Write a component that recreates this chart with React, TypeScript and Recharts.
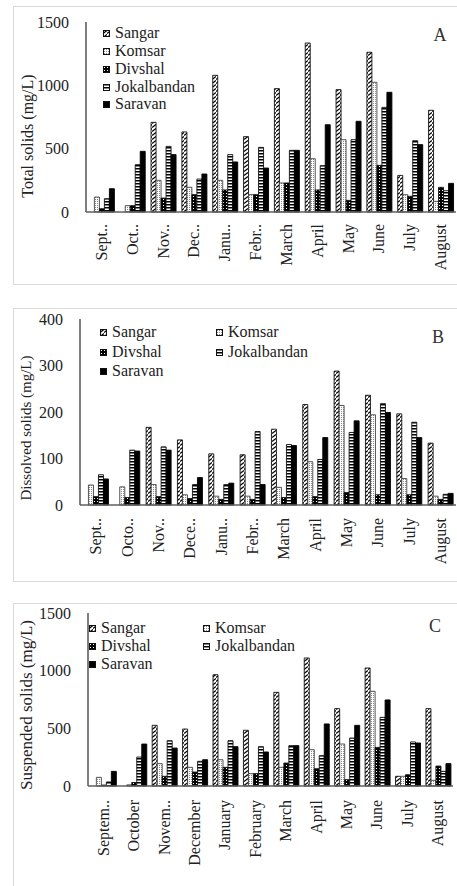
import React from 'react'
import { BarChart, Bar, XAxis, YAxis } from 'recharts'

const months = ['September', 'October', 'November', 'December', 'January', 'February', 'March', 'April', 'May', 'June', 'July', 'August']
const stations = ['Sangar', 'Komsar', 'Divshal', 'Jokalbandan', 'Saravan']

// A - total solids (mg/L)
const totalSangar = [0, 0, 708, 632, 1079, 595, 974, 1334, 966, 1261, 289, 803]
const totalKomsar = [118, 50, 250, 195, 250, 137, 229, 421, 571, 1024, 137, 84]
const totalDivshal = [26, 50, 110, 137, 174, 137, 229, 174, 92, 368, 124, 195]
const totalJokalbandan = [105, 374, 518, 260, 453, 510, 487, 366, 571, 826, 563, 168]
const totalSaravan = [184, 479, 453, 300, 395, 347, 487, 689, 716, 945, 532, 226]

// B - dissolved solids (mg/L)
const dissolvedSangar = [0, 0, 167, 140, 110, 108, 163, 216, 288, 236, 196, 133]
const dissolvedKomsar = [43, 39, 44, 22, 19, 19, 38, 93, 214, 194, 57, 19]
const dissolvedDivshal = [18, 16, 18, 14, 12, 12, 16, 18, 27, 22, 22, 12]
const dissolvedJokalbandan = [65, 118, 125, 44, 44, 158, 130, 98, 156, 218, 178, 23]
const dissolvedSaravan = [56, 116, 118, 59, 47, 44, 128, 145, 181, 199, 145, 25]

// C - suspended solids (mg/L)
const suspendedSangar = [0, 0, 526, 494, 965, 483, 812, 1110, 671, 1023, 84, 671]
const suspendedKomsar = [75, 10, 194, 162, 228, 107, 162, 315, 364, 821, 84, 49]
const suspendedDivshal = [8, 30, 84, 121, 162, 107, 199, 150, 55, 335, 98, 173]
const suspendedJokalbandan = [35, 251, 393, 214, 393, 341, 350, 263, 416, 595, 382, 127]
const suspendedSaravan = [127, 364, 329, 228, 341, 295, 350, 538, 526, 746, 373, 194]

const ticksA = ['Sept..', 'Oct..', 'Nov..', 'Dec..', 'Janu..', 'Febr..', 'March', 'April', 'May', 'June', 'July', 'August']
const ticksB = ['Sept..', 'Octo..', 'Nov..', 'Dece..', 'Janu..', 'Febr..', 'March', 'April', 'May', 'June', 'July', 'August']
const ticksC = ['Septem..', 'October', 'Novem..', 'December', 'January', 'February', 'March', 'April', 'May', 'June', 'July', 'August']

const yTicksA = [0, 500, 1000, 1500]
const yTicksB = [0, 100, 200, 300, 400]
const yTicksC = [0, 500, 1000, 1500]

const serif = "'Liberation Serif', 'Times New Roman', serif"
const frameColor = '#5f5f5f'

const buildRows = (series: number[][]) =>
  months.map((m, i) => ({
    month: m,
    Sangar: series[0][i],
    Komsar: series[1][i],
    Divshal: series[2][i],
    Jokalbandan: series[3][i],
    Saravan: series[4][i]
  }))

const dataA = buildRows([totalSangar, totalKomsar, totalDivshal, totalJokalbandan, totalSaravan])
const dataB = buildRows([dissolvedSangar, dissolvedKomsar, dissolvedDivshal, dissolvedJokalbandan, dissolvedSaravan])
const dataC = buildRows([suspendedSangar, suspendedKomsar, suspendedDivshal, suspendedJokalbandan, suspendedSaravan])

const seriesStyle: Record<string, { fill: string; stroke: string }> = {
  Sangar: { fill: 'url(#pat-sangar)', stroke: '#111' },
  Komsar: { fill: 'url(#pat-komsar)', stroke: '#444' },
  Divshal: { fill: 'url(#pat-divshal)', stroke: '#111' },
  Jokalbandan: { fill: 'url(#pat-jok)', stroke: '#111' },
  Saravan: { fill: '#000', stroke: '#000' }
}

function Patterns() {
  return (
    <svg width={0} height={0} style={{ position: 'absolute' }}>
      <defs>
        <pattern id="pat-sangar" patternUnits="userSpaceOnUse" width={4} height={4}>
          <rect width={4} height={4} fill="#fff" />
          <path d="M0 3.5 L4 0.5" stroke="#000" strokeWidth={1.3} />
        </pattern>
        <pattern id="pat-komsar" patternUnits="userSpaceOnUse" width={2} height={2}>
          <rect width={2} height={2} fill="#fff" />
          <rect x={1} y={1} width={1} height={1} fill="#8a8a8a" />
        </pattern>
        <pattern id="pat-divshal" patternUnits="userSpaceOnUse" width={3} height={3}>
          <rect width={3} height={3} fill="#000" />
          <rect x={1} y={1} width={1} height={1} fill="#fff" />
        </pattern>
        <pattern id="pat-jok" patternUnits="userSpaceOnUse" width={4} height={3}>
          <rect width={4} height={3} fill="#fff" />
          <rect width={4} height={1.5} fill="#000" />
        </pattern>
      </defs>
    </svg>
  )
}

interface LegendItem {
  name: string
  x: number
  y: number
}

interface PanelProps {
  top: number
  height: number
  data: ReturnType<typeof buildRows>
  yMax: number
  yTicks: number[]
  tickLabels: string[]
  tickDy: number
  yLabel: string
  labelX: number
  labelY: number
  labelSize: number
  letter: string
  letterX: number
  letterY: number
  margin: { top: number; right: number; bottom: number; left: number }
  yWidth: number
  xHeight: number
  legend: LegendItem[]
  legendSize: number
  frameTop: number
  frameHeight: number
}

function Panel(p: PanelProps) {
  const axisLine = { stroke: frameColor, strokeWidth: 1.6 }
  return (
    <div style={{ position: 'absolute', left: 0, top: p.top, width: 457, height: p.height }}>
      <div
        style={{
          position: 'absolute',
          left: 13,
          top: p.frameTop,
          width: 500,
          height: p.frameHeight,
          border: '1px solid #d9d9d9'
        }}
      />
      <div style={{ position: 'absolute', left: 0, top: 0 }}>
        <BarChart width={457} height={p.height} data={p.data} margin={p.margin} barCategoryGap="11%" barGap={0}>
          <XAxis
            dataKey="month"
            interval={0}
            height={p.xHeight}
            tickLine={false}
            tickSize={0}
            tickMargin={0}
            axisLine={axisLine}
            tick={(t: any) => {
              const y = t.y + p.tickDy
              const idx = t.index ?? t.payload?.index ?? 0
              return (
                <text
                  x={t.x}
                  y={y}
                  transform={`rotate(-90 ${t.x} ${y})`}
                  textAnchor="end"
                  dominantBaseline="central"
                  fontSize={16}
                  fontFamily={serif}
                  fill="#222"
                >
                  {p.tickLabels[idx]}
                </text>
              )
            }}
          />
          <XAxis xAxisId="top" orientation="top" dataKey="month" height={0} tick={false} tickLine={false} axisLine={axisLine} />
          <YAxis
            type="number"
            domain={[0, p.yMax]}
            ticks={p.yTicks}
            width={p.yWidth}
            tickLine={false}
            tickSize={0}
            tickMargin={17}
            axisLine={axisLine}
            tick={{ fontSize: 16, fontFamily: serif, fill: '#222' }}
            label={() => (
              <text
                x={p.labelX}
                y={p.labelY}
                transform={`rotate(-90 ${p.labelX} ${p.labelY})`}
                textAnchor="middle"
                dominantBaseline="central"
                fontSize={p.labelSize}
                fontFamily={serif}
                fill="#222"
              >
                {p.yLabel}
              </text>
            )}
          />
          <YAxis
            yAxisId="right"
            orientation="right"
            type="number"
            domain={[0, p.yMax]}
            width={0}
            tick={false}
            tickLine={false}
            axisLine={axisLine}
          />
          {stations.map(s => (
            <Bar
              key={s}
              dataKey={s}
              fill={seriesStyle[s].fill}
              stroke={seriesStyle[s].stroke}
              strokeWidth={0.9}
              isAnimationActive={false}
            />
          ))}
        </BarChart>
      </div>
      {p.legend.map(item => (
        <div
          key={item.name}
          style={{
            position: 'absolute',
            left: item.x,
            top: item.y,
            transform: 'translateY(-50%)',
            display: 'flex',
            alignItems: 'center',
            fontFamily: serif,
            fontSize: p.legendSize,
            color: '#222',
            whiteSpace: 'nowrap',
            lineHeight: 1
          }}
        >
          <svg width={7} height={7} style={{ marginRight: 5 }}>
            <rect x={0.5} y={0.5} width={6} height={6} fill={seriesStyle[item.name].fill} stroke="#111" strokeWidth={1} />
          </svg>
          {item.name}
        </div>
      ))}
      <div
        style={{
          position: 'absolute',
          left: p.letterX,
          top: p.letterY,
          transform: 'translate(-50%, -50%)',
          fontFamily: serif,
          fontSize: 18,
          color: '#333',
          lineHeight: 1
        }}
      >
        {p.letter}
      </div>
    </div>
  )
}

export default function App() {
  return (
    <div style={{ position: 'absolute', left: 0, top: 0, width: 457, height: 886, overflow: 'hidden', background: '#fff' }}>
      <Patterns />
      <Panel
        top={0}
        height={290}
        data={dataA}
        yMax={1500}
        yTicks={yTicksA}
        tickLabels={ticksA}
        tickDy={12}
        yLabel="Total solids (mg/L)"
        labelX={27}
        labelY={136}
        labelSize={16}
        letter="A"
        letterX={440}
        letterY={35}
        margin={{ top: 22, right: 1, bottom: 0, left: 0 }}
        yWidth={86}
        xHeight={78}
        legend={[
          { name: 'Sangar', x: 103, y: 33 },
          { name: 'Komsar', x: 103, y: 51 },
          { name: 'Divshal', x: 103, y: 69 },
          { name: 'Jokalbandan', x: 103, y: 87 },
          { name: 'Saravan', x: 103, y: 104 }
        ]}
        legendSize={16}
        frameTop={6}
        frameHeight={277}
      />
      <Panel
        top={290}
        height={295}
        data={dataB}
        yMax={400}
        yTicks={yTicksB}
        tickLabels={ticksB}
        tickDy={13}
        yLabel="Dissolved solids (mg/L)"
        labelX={26}
        labelY={138}
        labelSize={15}
        letter="B"
        letterX={438}
        letterY={47}
        margin={{ top: 29, right: 1, bottom: 0, left: 0 }}
        yWidth={80}
        xHeight={80}
        legend={[
          { name: 'Sangar', x: 100, y: 42 },
          { name: 'Komsar', x: 216, y: 42 },
          { name: 'Divshal', x: 100, y: 62 },
          { name: 'Jokalbandan', x: 216, y: 62 },
          { name: 'Saravan', x: 100, y: 81 }
        ]}
        legendSize={16}
        frameTop={18}
        frameHeight={272}
      />
      <Panel
        top={590}
        height={296}
        data={dataC}
        yMax={1500}
        yTicks={yTicksC}
        tickLabels={ticksC}
        tickDy={14}
        yLabel="Suspended solids (mg/L)"
        labelX={26}
        labelY={115}
        labelSize={17}
        letter="C"
        letterX={435}
        letterY={36}
        margin={{ top: 23, right: 4, bottom: 0, left: 0 }}
        yWidth={88}
        xHeight={100}
        legend={[
          { name: 'Sangar', x: 89, y: 38 },
          { name: 'Komsar', x: 203, y: 38 },
          { name: 'Divshal', x: 89, y: 56 },
          { name: 'Jokalbandan', x: 203, y: 56 },
          { name: 'Saravan', x: 89, y: 74 }
        ]}
        legendSize={16}
        frameTop={13}
        frameHeight={300}
      />
    </div>
  )
}
